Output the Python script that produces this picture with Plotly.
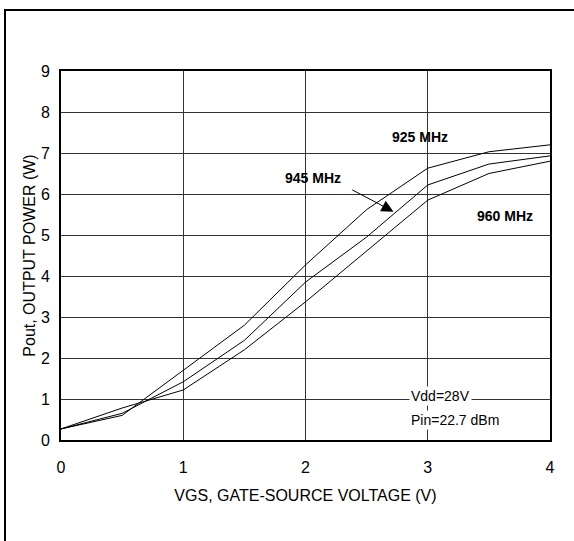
import plotly.graph_objects as go

vgs = [0, 0.5, 1, 1.5, 2, 2.5, 3, 3.5, 4]
p925 = [0.27, 0.60, 1.70, 2.80, 4.27, 5.62, 6.63, 7.03, 7.20]
p945 = [0.27, 0.65, 1.42, 2.43, 3.85, 4.95, 6.22, 6.73, 6.93]
p960 = [0.27, 0.78, 1.22, 2.20, 3.37, 4.62, 5.85, 6.50, 6.80]

series = [("925 MHz", p925), ("945 MHz", p945), ("960 MHz", p960)]

W, H = 574, 541
ML, MR, MT, MB = 61, 24, 71, 101
PW, PH = W - ML - MR, H - MT - MB

def px(x):
    return (x - ML) / PW

def py(y):
    return (H - MB - y) / PH

fig = go.Figure()
for name, vals in series:
    fig.add_trace(go.Scatter(x=vgs, y=vals, mode="lines", name=name,
                             line=dict(color="black", width=1), showlegend=False,
                             hoverinfo="skip"))

lab_font = dict(family="Arial, Liberation Sans", size=14, color="black")
fig.add_annotation(x=2.94, y=7.39, text="<b>925 MHz</b>", showarrow=False, font=lab_font, xref="x", yref="y")
fig.add_annotation(x=2.06, y=6.39, text="<b>945 MHz</b>", showarrow=False, font=lab_font, xref="x", yref="y")
fig.add_annotation(x=3.63, y=5.46, text="<b>960 MHz</b>", showarrow=False, font=lab_font, xref="x", yref="y")
# arrow
fig.add_annotation(x=2.72, y=5.57, ax=2.37, ay=6.12, xref="x", yref="y", axref="x", ayref="y",
                   text="", showarrow=True, arrowhead=2, arrowsize=2.4, arrowwidth=1, arrowcolor="black")

cond_font = dict(family="Arial, Liberation Sans", size=14, color="black")
fig.add_annotation(x=2.85, y=1.08, text="Vdd=28V", showarrow=False, font=cond_font,
                   xanchor="left", yanchor="middle", bgcolor="white", xref="x", yref="y")
fig.add_annotation(x=2.85, y=0.48, text="Pin=22.7 dBm", showarrow=False, font=cond_font,
                   xanchor="left", yanchor="middle", bgcolor="white", xref="x", yref="y")

# outer frame (only top and left edges fall inside the picture)
fig.add_shape(type="line", xref="paper", yref="paper",
              x0=px(4), x1=px(574), y0=py(10), y1=py(10),
              line=dict(color="black", width=2), layer="above")
fig.add_shape(type="line", xref="paper", yref="paper",
              x0=px(5), x1=px(5), y0=py(9), y1=py(541),
              line=dict(color="black", width=2), layer="above")

tfont = dict(family="Arial, Liberation Sans", size=16, color="black")
axis_common = dict(showgrid=True, gridcolor="#333333", gridwidth=1, zeroline=False,
                   showline=True, linecolor="black", linewidth=2, mirror=True,
                   ticks="", tickfont=tfont)

fig.update_layout(
    width=W, height=H,
    margin=dict(l=ML, r=MR, t=MT, b=MB, autoexpand=False),
    paper_bgcolor="white", plot_bgcolor="white",
    xaxis=dict(range=[0, 4], dtick=1, tick0=0, ticklabelstandoff=12,
               title=dict(text="VGS, GATE-SOURCE VOLTAGE (V)", standoff=15, font=tfont),
               **axis_common),
    yaxis=dict(range=[0, 9], dtick=1, tick0=0, ticklabelstandoff=6,
               title=dict(text="Pout, OUTPUT POWER (W)", standoff=1, font=tfont),
               **axis_common),
)

fig.write_html("out.html", config={"displayModeBar": False},
               post_script="document.body.style.margin='0';")
